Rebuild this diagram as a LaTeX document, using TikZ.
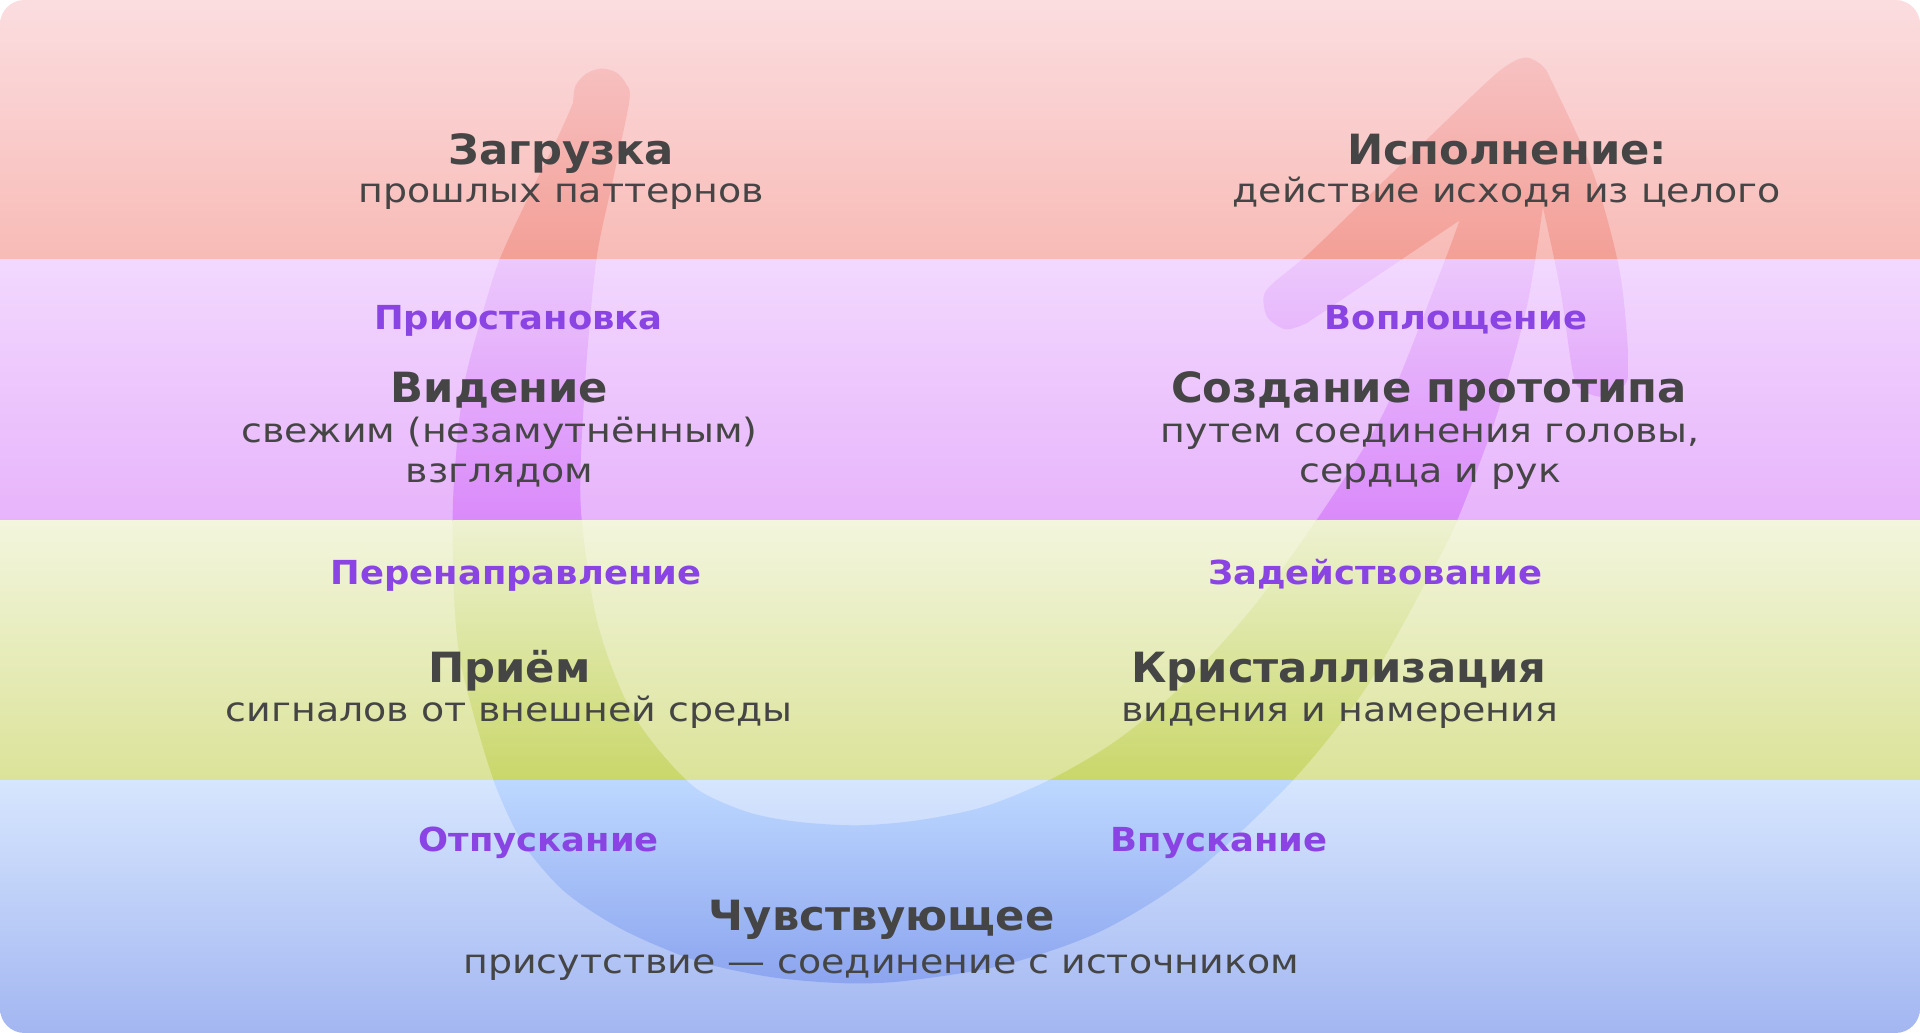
\documentclass[tikz,border=0pt]{standalone}
\usepackage{fontspec}
\setmainfont{DejaVu Sans}
\newfontfamily\headfont[FakeStretch=1.04]{DejaVu Sans}
\newfontfamily\subfont[FakeStretch=1.13]{DejaVu Sans}
\newfontfamily\stagefont[FakeStretch=1.07]{DejaVu Sans}
\usepackage{tikz}

\definecolor{ink}{HTML}{454545}
\definecolor{stagecol}{HTML}{8A44E4}
\definecolor{redtop}{HTML}{FBDDE0}
\definecolor{redbot}{HTML}{F8BBB6}
\definecolor{purtop}{HTML}{F2D8FE}
\definecolor{purbot}{HTML}{E7B4FB}
\definecolor{grntop}{HTML}{F3F5DD}
\definecolor{grnbot}{HTML}{DBE399}
\definecolor{blutop}{HTML}{D6E6FE}
\definecolor{blubot}{HTML}{A3B6F1}
\definecolor{aredtop}{HTML}{F8CBCE}
\definecolor{aredbot}{HTML}{F39F96}
\definecolor{apurtop}{HTML}{ECC8FC}
\definecolor{apurbot}{HTML}{DA8AFA}
\definecolor{agrntop}{HTML}{EEF2D2}
\definecolor{agrnbot}{HTML}{C9D76A}
\definecolor{ablutop}{HTML}{BDD8FF}
\definecolor{ablubot}{HTML}{8098EB}

\newcommand\arrowpath{
  plot[smooth] coordinates {(468,84) (470,70) (479,60) (491,56) (503,59) (511,68) (514,82) (501,145) (487,212) (478,310) (474,408) (484,490) (496,535) (515,580) (540,615) (570,645) (610,663) (650,671) (700,674) (749,670) (803,659) (857,637) (910,606) (960,565) (1020,500) (1075,425) (1130,337) (1176,223) (1192,180)}
  -- plot[smooth] coordinates {(1067,264) (1050,269) (1035,259) (1032,242) (1040,231) (1070,206) (1129,149) (1211,70) (1233,52) (1247,47) (1260,54) (1268,68) (1301,141) (1323,223) (1330,300) (1324,317) (1307,324) (1290,317) (1284,302) (1274,235) (1260,169)}
  -- plot[smooth] coordinates {(1260,169) (1247,250) (1222,340) (1190,425) (1170,465) (1116,561) (1056,637) (975,713) (900,760) (820,788) (740,801) (690,803) (630,798) (570,785) (510,760) (462,729) (428,690) (406,645) (390,595) (376,540) (371,490) (370,408) (378,320) (393,260) (408,212) (432,160) (457,109) (468,84)}
  -- cycle}

\begin{document}
\begin{tikzpicture}[
    x=0.5pt,y=-0.5pt,
    title/.style={font=\headfont\fontsize{17}{20}\selectfont\bfseries, text=ink, anchor=base, inner sep=0},
    sub/.style={font=\subfont\fontsize{13.7}{16}\selectfont, text=ink, anchor=base, inner sep=0},
    stage/.style={font=\stagefont\fontsize{13.5}{16}\selectfont\bfseries, text=stagecol, anchor=base, inner sep=0}
    ]
    \useasboundingbox (0,0) rectangle (1568,843.6);
    \fill[white] (0,0) rectangle (1568,843.6);
    \begin{scope}
      \clip[rounded corners=10pt] (0,0) rectangle (1568,843.6);
      \shade[top color=redtop, bottom color=redbot] (0,0) rectangle (1568,212.3);
      \shade[top color=purtop, bottom color=purbot] (0,212.3) rectangle (1568,424.7);
      \shade[top color=grntop, bottom color=grnbot] (0,424.7) rectangle (1568,637);
      \shade[top color=blutop, bottom color=blubot] (0,637) rectangle (1568,843.6);
      \clip \arrowpath;
      \shade[top color=aredtop, bottom color=aredbot] (0,0) rectangle (1568,212.3);
      \shade[top color=apurtop, bottom color=apurbot] (0,212.3) rectangle (1568,424.7);
      \shade[top color=agrntop, bottom color=agrnbot] (0,424.7) rectangle (1568,637);
      \shade[top color=ablutop, bottom color=ablubot] (0,637) rectangle (1568,843.6);
    \end{scope}

    \node[title] (zagruzka) at (458.5,134) {Загрузка};
    \node[sub] (zagruzkasub) at (458.5,165.5) {прошлых паттернов};
    \node[title] (ispolnenie) at (1231,134) {Исполнение:};
    \node[sub] (ispolneniesub) at (1230.5,165.5) {действие исходя из целого};

    \node[stage] (priostanovka) at (423.5,269) {Приостановка};
    \node[stage] (voploshchenie) at (1189,269) {Воплощение};
    \node[title] (videnie) at (408,328.5) {Видение};
    \node[sub] (videniesub) at (408,361) {свежим (незамутнённым)};
    \node[sub] (videniesubb) at (408,394) {взглядом};
    \node[title] (sozdanie) at (1167,328.5) {Создание прототипа};
    \node[sub] (sozdaniesub) at (1168,361) {путем соединения головы,};
    \node[sub] (sozdaniesubb) at (1168,394) {сердца и рук};

    \node[stage] (perenapravlenie) at (421.5,477.5) {Перенаправление};
    \node[stage] (zadeistvovanie) at (1123,477.5) {Задействование};
    \node[title] (priem) at (416,557) {Приём};
    \node[sub] (priemsub) at (416,589.5) {сигналов от внешней среды};
    \node[title] (kristallizatsiya) at (1093.5,557) {Кристаллизация};
    \node[sub] (kristallizatsiyasub) at (1094,589.5) {видения и намерения};

    \node[stage] (otpuskanie) at (440,695.5) {Отпускание};
    \node[stage] (vpuskanie) at (995.5,695.5) {Впускание};
    \node[title] (chuvstvuyushchee) at (720,759.5) {Чувствующее};
    \node[sub] (chuvstvuyushcheesub) at (719.5,795) {присутствие — соединение с источником};
  \end{tikzpicture}
\end{document}
